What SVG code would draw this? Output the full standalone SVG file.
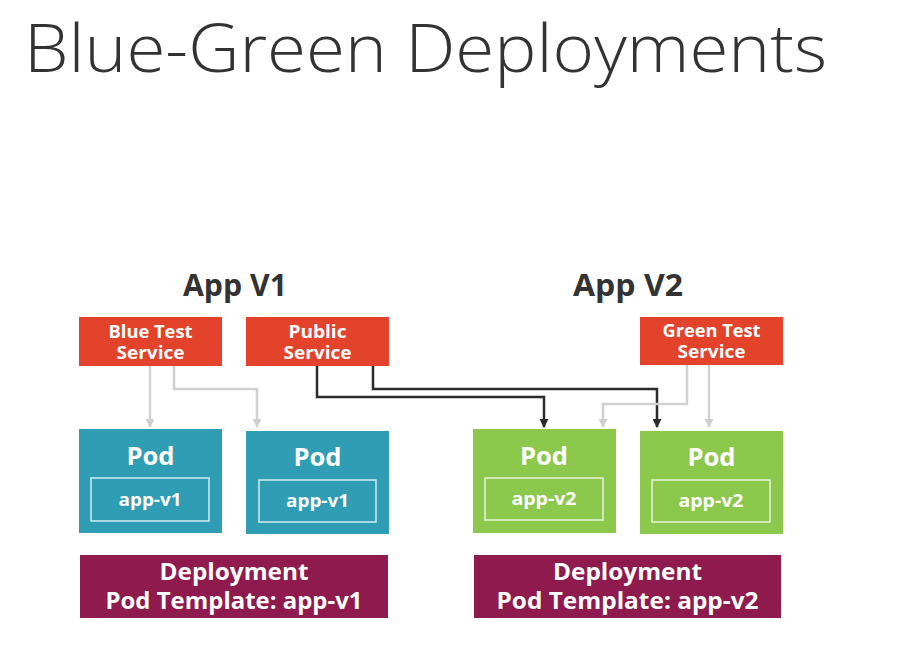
<svg xmlns="http://www.w3.org/2000/svg" width="922" height="655" viewBox="0 0 922 655">
  <defs>
    <marker id="arrowDark" viewBox="0 0 10 10" refX="9" refY="5" markerWidth="9" markerHeight="9" markerUnits="userSpaceOnUse" orient="auto">
      <path d="M0,0 L10,5 L0,10 z" fill="#2b2b2b"/>
    </marker>
    <marker id="arrowLight" viewBox="0 0 10 10" refX="9" refY="5" markerWidth="9" markerHeight="9" markerUnits="userSpaceOnUse" orient="auto">
      <path d="M0,0 L10,5 L0,10 z" fill="#cfcfcf"/>
    </marker>
  </defs>
  <style>
    text { font-family: "Open Sans", "Liberation Sans", sans-serif; }
    .title { font-weight: 300; font-size: 67px; fill: #333333; }
    .app { font-weight: 700; font-size: 30px; fill: #333333; text-anchor: middle; }
    .svc rect { fill: #e2432a; }
    .svc text { font-weight: 700; font-size: 17px; fill: #ffffff; text-anchor: middle; }
    .pod-v1 > rect.outer { fill: #2f9db4; }
    .pod-v2 > rect.outer { fill: #8cc84b; }
    .pod rect.inner { fill: none; stroke: #ffffff; stroke-opacity: 0.8; stroke-width: 1.5; }
    .pod text.pod-label { font-weight: 700; font-size: 25px; fill: #ffffff; text-anchor: middle; }
    .pod text.ver { font-weight: 700; font-size: 17px; fill: #ffffff; text-anchor: middle; }
    .deploy rect { fill: #8e1a4e; }
    .deploy text { font-weight: 700; font-size: 23px; fill: #ffffff; text-anchor: middle; }
    .dark { fill: none; stroke: #2b2b2b; stroke-width: 2.5; marker-end: url(#arrowDark); }
    .light { fill: none; stroke: #d0d0d0; stroke-width: 2.5; marker-end: url(#arrowLight); }
  </style>

  <rect width="922" height="655" fill="#ffffff"/>

  <text class="title" x="24" y="72" textLength="803" lengthAdjust="spacingAndGlyphs">Blue-Green Deployments</text>

  <text class="app" x="235" y="296" textLength="104" lengthAdjust="spacingAndGlyphs">App V1</text>
  <text class="app" x="628" y="296" textLength="110" lengthAdjust="spacingAndGlyphs">App V2</text>

  <!-- connectors -->
  <g id="connectors">
    <path class="light" d="M150,366 V427"/>
    <path class="light" d="M174,366 V389 H257 V427"/>
    <path class="dark" d="M317,366 V397 H544 V427"/>
    <path class="dark" d="M373,366 V389 H657 V427"/>
    <path class="light" d="M687,365 V404 H603 V427"/>
    <path class="light" d="M709,365 V427"/>
  </g>

  <!-- services -->
  <g id="blue-test-service" class="svc">
    <rect x="79" y="317" width="143" height="49"/>
    <text x="150.5" y="338" textLength="84" lengthAdjust="spacingAndGlyphs">Blue Test</text>
    <text x="150.5" y="359" textLength="68" lengthAdjust="spacingAndGlyphs">Service</text>
  </g>
  <g id="public-service" class="svc">
    <rect x="246" y="317" width="143" height="49"/>
    <text x="317.5" y="338" textLength="58" lengthAdjust="spacingAndGlyphs">Public</text>
    <text x="317.5" y="359" textLength="68" lengthAdjust="spacingAndGlyphs">Service</text>
  </g>
  <g id="green-test-service" class="svc">
    <rect x="640" y="317" width="143" height="48"/>
    <text x="711.5" y="337" textLength="98" lengthAdjust="spacingAndGlyphs">Green Test</text>
    <text x="711.5" y="358" textLength="68" lengthAdjust="spacingAndGlyphs">Service</text>
  </g>

  <!-- pods -->
  <g id="pod-v1-a" class="pod pod-v1">
    <rect class="outer" x="79" y="429" width="143" height="104"/>
    <text class="pod-label" x="150.5" y="465" textLength="48" lengthAdjust="spacingAndGlyphs">Pod</text>
    <rect class="inner" x="91" y="478" width="118" height="43"/>
    <text class="ver" x="150" y="506" textLength="63" lengthAdjust="spacingAndGlyphs">app-v1</text>
  </g>
  <g id="pod-v1-b" class="pod pod-v1">
    <rect class="outer" x="246" y="431" width="143" height="103"/>
    <text class="pod-label" x="317.5" y="466" textLength="48" lengthAdjust="spacingAndGlyphs">Pod</text>
    <rect class="inner" x="259" y="480" width="117" height="42"/>
    <text class="ver" x="317.5" y="507" textLength="63" lengthAdjust="spacingAndGlyphs">app-v1</text>
  </g>
  <g id="pod-v2-a" class="pod pod-v2">
    <rect class="outer" x="473" y="429" width="143" height="104"/>
    <text class="pod-label" x="544" y="465" textLength="48" lengthAdjust="spacingAndGlyphs">Pod</text>
    <rect class="inner" x="485" y="478" width="118" height="42"/>
    <text class="ver" x="544" y="505" textLength="65" lengthAdjust="spacingAndGlyphs">app-v2</text>
  </g>
  <g id="pod-v2-b" class="pod pod-v2">
    <rect class="outer" x="640" y="431" width="143" height="103"/>
    <text class="pod-label" x="711.5" y="466" textLength="48" lengthAdjust="spacingAndGlyphs">Pod</text>
    <rect class="inner" x="652" y="480" width="118" height="42"/>
    <text class="ver" x="711" y="507" textLength="65" lengthAdjust="spacingAndGlyphs">app-v2</text>
  </g>

  <!-- deployments -->
  <g id="deployment-v1" class="deploy">
    <rect x="80" y="555" width="308" height="63"/>
    <text x="234" y="580" textLength="149" lengthAdjust="spacingAndGlyphs">Deployment</text>
    <text x="234" y="609" textLength="257" lengthAdjust="spacingAndGlyphs">Pod Template: app-v1</text>
  </g>
  <g id="deployment-v2" class="deploy">
    <rect x="474" y="555" width="307" height="63"/>
    <text x="627.5" y="580" textLength="149" lengthAdjust="spacingAndGlyphs">Deployment</text>
    <text x="627.5" y="609" textLength="262" lengthAdjust="spacingAndGlyphs">Pod Template: app-v2</text>
  </g>
</svg>
